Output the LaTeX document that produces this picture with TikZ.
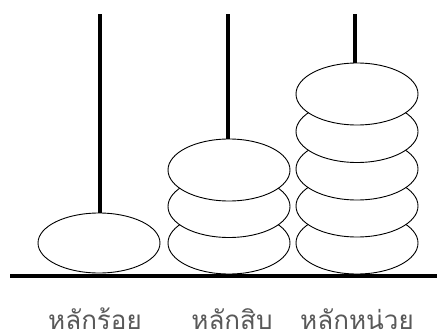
\documentclass[tikz,border=0pt]{standalone}
\usepackage{fontspec}
\newfontfamily\thaifont[Script=Thai]{Loma}
\usepackage{xcolor}
\definecolor{LabelGray}{HTML}{595959}
\tikzset{
  bead/.style={fill=white,draw=black,line width=0.9pt},
  rod/.style={line width=4pt},
  placelabel/.style={font=\thaifont\fontsize{26}{30}\selectfont,text=LabelGray,
    anchor=base,inner sep=0pt,text depth=0pt}
}
\begin{document}
\begin{tikzpicture}[x=1pt,y=-1pt]
    \useasboundingbox (0,0) rectangle (437,335);
    % rods
    \draw[rod] (100,14) -- (100,240);
    \draw[rod] (228,14) -- (228,240);
    \draw[rod] (355,14) -- (355,240);
    % beads, drawn from the bottom up
    \filldraw[bead] (99,243) ellipse (61 and 30);
    \foreach \y in {243,206.5,170}
      \filldraw[bead] (229,\y) ellipse (61 and 31);
    \foreach \y in {243,206,169,131.5,94}
      \filldraw[bead] (357,\y) ellipse (61 and 31);
    % base
    \draw[line width=4pt] (10,276) -- (437,276);
    % labels
    \node[placelabel] (hundreds) at (95,329) {หลักร้อย};
    \node[placelabel] (tens)     at (232,329) {หลักสิบ};
    \node[placelabel] (units)    at (357,329) {หลักหน่วย};
  \end{tikzpicture}
\end{document}
